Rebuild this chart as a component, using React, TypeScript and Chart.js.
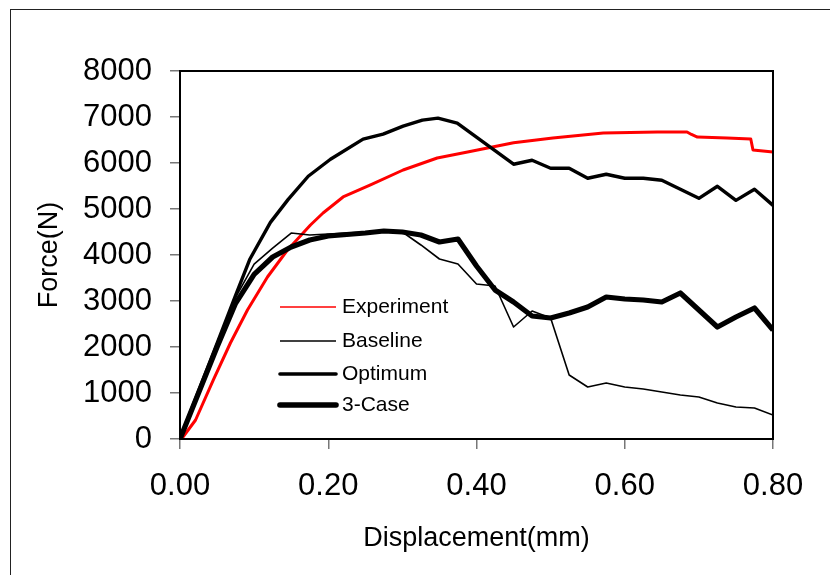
import React, { useEffect, useRef } from "react";
import { Chart, registerables } from "chart.js";
Chart.register(...registerables);

const FONT = "'Liberation Sans', Arial, sans-serif";

const xTicks = [0, 0.2, 0.4, 0.6, 0.8];
const yTicks = [0, 1000, 2000, 3000, 4000, 5000, 6000, 7000, 8000];

const seriesNames = ["Experiment", "Baseline", "Optimum", "3-Case"];

const experimentX = [0, 0.003, 0.021, 0.045, 0.068, 0.091, 0.118, 0.145, 0.176, 0.193, 0.22, 0.257, 0.301, 0.347, 0.388, 0.45, 0.503, 0.571, 0.644, 0.684, 0.69, 0.698, 0.738, 0.77, 0.773, 0.8];
const experimentY = [0, 22, 413, 1283, 2087, 2804, 3522, 4109, 4652, 4913, 5261, 5522, 5848, 6109, 6239, 6442, 6544, 6652, 6674, 6674, 6620, 6565, 6544, 6522, 6283, 6239];

const gridX = [0, 0.025, 0.05, 0.075, 0.1, 0.125, 0.15, 0.175, 0.2, 0.225, 0.25, 0.275, 0.3, 0.325, 0.35, 0.375, 0.4, 0.425, 0.45, 0.475, 0.5, 0.525, 0.55, 0.575, 0.6, 0.625, 0.65, 0.675, 0.7, 0.725, 0.75, 0.775, 0.8];

const baselineY = [0, 1030, 2060, 3080, 3800, 4150, 4478, 4435, 4457, 4478, 4500, 4522, 4500, 4218, 3913, 3804, 3370, 3326, 2435, 2783, 2630, 1391, 1130, 1217, 1130, 1087, 1022, 957, 913, 783, 696, 674, 522];

const threeCaseY = [0, 1000, 2000, 2950, 3580, 3957, 4174, 4326, 4413, 4446, 4478, 4522, 4500, 4435, 4283, 4348, 3761, 3239, 2978, 2674, 2630, 2739, 2870, 3087, 3044, 3022, 2978, 3174, 2804, 2435, 2652, 2848, 2370];

const optimumX = [0, 0.025, 0.05, 0.075, 0.094, 0.122, 0.146, 0.173, 0.203, 0.247, 0.274, 0.301, 0.327, 0.348, 0.374, 0.45, 0.475, 0.5, 0.525, 0.55, 0.575, 0.6, 0.625, 0.65, 0.675, 0.7, 0.725, 0.75, 0.775, 0.8];
const optimumY = [0, 1040, 2080, 3120, 3902, 4709, 5210, 5712, 6082, 6518, 6627, 6802, 6932, 6976, 6867, 5973, 6060, 5886, 5886, 5668, 5755, 5668, 5668, 5624, 5428, 5232, 5494, 5188, 5428, 5079];

const seriesColors = ["#ff0000", "#000000", "#000000", "#000000"];
const seriesWidths = [3, 1.6, 3.4, 5.2];
const legendWidths = [1.6, 1.6, 3.6, 5.6];

const pts = (xs: number[], ys: number[]) => xs.map((x, i) => ({ x, y: ys[i] }));

export default function App() {
  const ref = useRef<HTMLCanvasElement>(null);

  useEffect(() => {
    const frame = {
      id: "frame",
      afterDatasetsDraw(chart: any) {
        const { ctx, chartArea: a } = chart;
        ctx.save();
        ctx.strokeStyle = "#000";
        ctx.lineWidth = 2;
        ctx.strokeRect(a.left, a.top, a.right - a.left, a.bottom - a.top);
        ctx.restore();
      },
    };
    const legend = {
      id: "insideLegend",
      afterDraw(chart: any) {
        const { ctx } = chart;
        ctx.save();
        const x0 = 280, x1 = 336, tx = 342;
        const ys = [307, 341, 374, 405];
        seriesNames.forEach((name, i) => {
          ctx.beginPath();
          ctx.strokeStyle = seriesColors[i];
          ctx.lineWidth = legendWidths[i];
          ctx.lineCap = i >= 2 ? "round" : "butt";
          ctx.moveTo(x0, ys[i]);
          ctx.lineTo(x1, ys[i]);
          ctx.stroke();
          ctx.fillStyle = "#000";
          ctx.font = `21px ${FONT}`;
          ctx.textBaseline = "middle";
          ctx.textAlign = "left";
          ctx.fillText(name, tx, ys[i]);
        });
        ctx.restore();
      },
    };

    const mk = (i: number, data: any[], order: number) => ({
      label: seriesNames[i],
      data,
      showLine: true,
      borderColor: seriesColors[i],
      backgroundColor: seriesColors[i],
      borderWidth: seriesWidths[i],
      pointRadius: 0,
      borderJoinStyle: "round" as const,
      tension: 0,
      order,
    });

    const chart = new Chart(ref.current as HTMLCanvasElement, {
      type: "scatter",
      data: {
        datasets: [
          mk(0, pts(experimentX, experimentY), 4),
          mk(1, pts(gridX, baselineY), 3),
          mk(2, pts(optimumX, optimumY), 2),
          mk(3, pts(gridX, threeCaseY), 1),
        ],
      },
      options: {
        animation: false,
        responsive: false,
        events: [],
        layout: { padding: { left: 0, top: 71, right: 57, bottom: 0 } },
        plugins: { legend: { display: false }, tooltip: { enabled: false } },
        scales: {
          x: {
            type: "linear",
            min: 0,
            max: 0.8,
            afterBuildTicks: (s: any) => {
              s.ticks = xTicks.map((v) => ({ value: v }));
            },
            ticks: {
              callback: (v: any) => Number(v).toFixed(2),
              font: { family: FONT, size: 31 },
              color: "#000",
              padding: 19,
              maxRotation: 0,
              autoSkip: false,
            },
            grid: { drawOnChartArea: false, tickLength: 10, color: "#777", lineWidth: 1.5 },
            border: { display: false },
            title: {
              display: true,
              text: "Displacement(mm)",
              font: { family: FONT, size: 27 },
              color: "#000",
              padding: { top: 0, bottom: 20 },
            },
            afterFit: (s: any) => {
              s.height = 136;
            },
          },
          y: {
            type: "linear",
            min: 0,
            max: 8000,
            afterBuildTicks: (s: any) => {
              s.ticks = yTicks.map((v) => ({ value: v }));
            },
            ticks: {
              callback: (v: any) => String(v),
              font: { family: FONT, size: 31 },
              color: "#000",
              padding: 18,
              autoSkip: false,
            },
            grid: { drawOnChartArea: false, tickLength: 10, color: "#777", lineWidth: 1.5 },
            border: { display: false },
            title: {
              display: true,
              text: "Force(N)",
              font: { family: FONT, size: 27 },
              color: "#000",
              padding: { top: 33, bottom: 0 },
            },
            afterFit: (s: any) => {
              s.width = 180;
            },
          },
        },
      },
      plugins: [frame, legend],
    });
    return () => chart.destroy();
  }, []);

  return (
    <div style={{ position: "absolute", left: 0, top: 0, width: 830, height: 575, overflow: "hidden", background: "#fff" }}>
      <div style={{ position: "absolute", left: 10, top: 9, width: 1000, height: 1000, border: "1.5px solid #222" }} />
      <canvas ref={ref} width={830} height={575} style={{ position: "absolute", left: 0, top: 0, width: 830, height: 575 }} />
    </div>
  );
}
